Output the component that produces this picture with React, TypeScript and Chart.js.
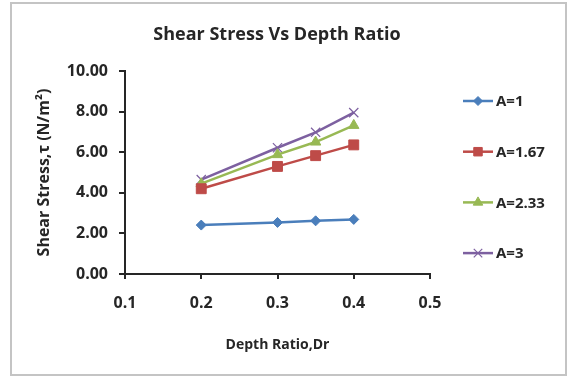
import React, { useEffect, useRef } from "react";
import { Chart, registerables } from "chart.js";
import { drawPoint } from "chart.js/helpers";

Chart.register(...registerables);

const depthRatios = [0.2, 0.3, 0.35, 0.4];
const seriesNames = ["A=1", "A=1.67", "A=2.33", "A=3"];
const stressA1 = [2.41, 2.54, 2.62, 2.69];
const stressA167 = [4.2, 5.3, 5.83, 6.36];
const stressA233 = [4.45, 5.88, 6.5, 7.32];
const stressA3 = [4.65, 6.22, 6.98, 7.95];
const xTickValues = [0.1, 0.2, 0.3, 0.4, 0.5];
const yTickValues = [0, 2, 4, 6, 8, 10];
const chartTitle = "Shear Stress Vs Depth Ratio";
const xTitle = "Depth Ratio,Dr";
const yTitle = "Shear Stress,τ (N/m²)";

const colors = ["#4a7ebb", "#be4b48", "#98b954", "#7d60a0"];
const pointStyles = ["rectRot", "rect", "triangle", "crossRot"];
const pointRadii = [5, 7, 6, 6.5];
const legendRadii = [4.5, 6, 5.5, 6];
const FONT = "'Open Sans', 'DejaVu Sans', sans-serif";

const frameTitleLegend = {
  id: "frameTitleLegend",
  beforeDraw(chart: any) {
    const ctx = chart.ctx;
    ctx.save();
    ctx.fillStyle = "#ffffff";
    ctx.fillRect(0, 0, chart.width, chart.height);
    ctx.strokeStyle = "#c4c4c4";
    ctx.lineWidth = 2;
    ctx.strokeRect(11, 3, 555, 372);
    ctx.restore();
  },
  afterDraw(chart: any) {
    const ctx = chart.ctx;
    ctx.save();
    ctx.fillStyle = "#262626";
    ctx.font = "bold 18px " + FONT;
    ctx.textAlign = "center";
    ctx.textBaseline = "middle";
    ctx.fillText(chartTitle, 277, 35);
    ctx.restore();
    chart.data.datasets.forEach((ds: any, i: number) => {
      const y = 101 + i * 50.7;
      ctx.save();
      ctx.strokeStyle = ds.borderColor;
      ctx.lineWidth = 2.5;
      ctx.beginPath();
      ctx.moveTo(463, y);
      ctx.lineTo(493, y);
      ctx.stroke();
      ctx.fillStyle = ds.backgroundColor;
      ctx.strokeStyle = ds.borderColor;
      ctx.lineWidth = ds.pointStyle === "crossRot" ? 1.2 : 1;
      drawPoint(ctx, { pointStyle: ds.pointStyle, radius: legendRadii[i], borderWidth: 1, rotation: 0 }, 478, y);
      ctx.fillStyle = "#262626";
      ctx.font = "bold 15px " + FONT;
      ctx.textBaseline = "middle";
      ctx.textAlign = "left";
      ctx.fillText(ds.label, 496, y + 1);
      ctx.restore();
    });
  },
};

export default function App() {
  const ref = useRef<HTMLCanvasElement | null>(null);
  useEffect(() => {
    if (!ref.current) return;
    const seriesValues = [stressA1, stressA167, stressA233, stressA3];
    const datasets = seriesNames.map((name, i) => ({
      label: name,
      data: depthRatios.map((x, j) => ({ x, y: seriesValues[i][j] })),
      borderColor: colors[i],
      backgroundColor: colors[i],
      pointStyle: pointStyles[i],
      pointRadius: pointRadii[i],
      pointBorderWidth: i === 3 ? 1.2 : 1,
      borderWidth: 2.5,
      showLine: true,
      tension: 0,
    }));
    const chart = new Chart(ref.current, {
      type: "scatter",
      data: { datasets },
      options: {
        animation: false,
        responsive: false,
        layout: { padding: { left: 33, right: 140, top: 71, bottom: 0 } },
        plugins: {
          legend: { display: false },
          tooltip: { enabled: false },
          title: { display: false },
        },
        scales: {
          x: {
            type: "linear",
            min: 0.1,
            max: 0.5,
            afterFit(scale: any) {
              scale.height = 105;
            },
            afterBuildTicks(scale: any) {
              scale.ticks = xTickValues.map((v) => ({ value: v }));
            },
            ticks: {
              color: "#262626",
              font: { family: FONT, size: 16, weight: "bold" },
              padding: 15,
              callback: (v: any) => Number(v).toFixed(1),
              maxRotation: 0,
            },
            grid: { display: true, drawOnChartArea: false, drawTicks: true, tickLength: 5, color: "#262626", lineWidth: 2 },
            border: { display: true, color: "#262626", width: 2 },
            title: {
              display: true,
              text: xTitle,
              color: "#262626",
              font: { family: FONT, size: 14, weight: "bold" },
              padding: { top: 4, bottom: 26 },
            },
          },
          y: {
            type: "linear",
            min: 0,
            max: 10,
            afterFit(scale: any) {
              scale.width = 92;
            },
            afterBuildTicks(scale: any) {
              scale.ticks = yTickValues.map((v) => ({ value: v }));
            },
            ticks: {
              color: "#262626",
              font: { family: FONT, size: 16, weight: "bold" },
              padding: 11,
              callback: (v: any) => Number(v).toFixed(2),
            },
            grid: { display: true, drawOnChartArea: false, drawTicks: true, tickLength: 6, color: "#262626", lineWidth: 2 },
            border: { display: true, color: "#262626", width: 2 },
            title: {
              display: true,
              text: yTitle,
              color: "#262626",
              font: { family: FONT, size: 16, weight: "bold" },
              padding: { top: 2, bottom: 2 },
            },
          },
        },
      },
      plugins: [frameTitleLegend],
    });
    return () => chart.destroy();
  }, []);
  return (
    <div style={{ position: "fixed", left: 0, top: 0, width: 570, height: 379, background: "#fff" }}>
      <canvas ref={ref} width={570} height={379} />
    </div>
  );
}
